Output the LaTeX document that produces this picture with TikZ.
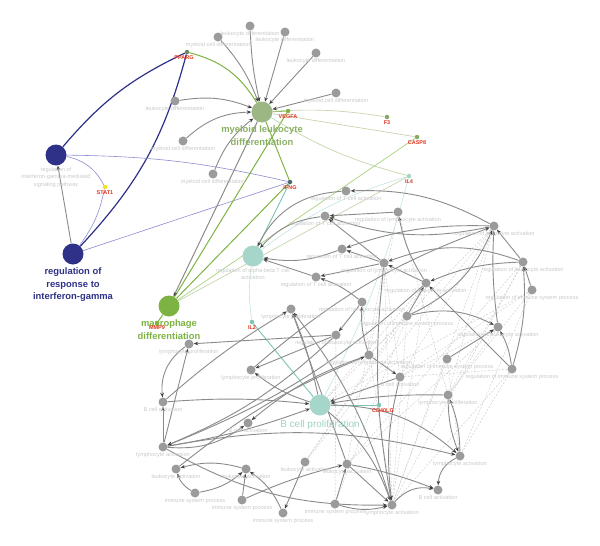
\documentclass[tikz,border=0pt]{standalone}
\usepackage{fontspec}
\setmainfont{Liberation Sans}
\usetikzlibrary{arrows.meta,backgrounds}
\definecolor{termGray}{HTML}{9B9B9B}
\definecolor{edgeGray}{HTML}{8A8A8A}
\definecolor{lblGray}{HTML}{C9C9C9}
\definecolor{geneRed}{HTML}{E2341F}
\definecolor{navyHub}{HTML}{2E3187}
\definecolor{mlHub}{HTML}{9DB784}
\definecolor{mlText}{HTML}{8AB064}
\definecolor{macHub}{HTML}{7CB342}
\definecolor{tealHub}{HTML}{A6D5C9}
\definecolor{tealText}{HTML}{9CD2C4}
\definecolor{lilac}{HTML}{8C8CD2}
\definecolor{oliveLt}{HTML}{C6D5AE}
\definecolor{greenLt}{HTML}{A9D17F}
\definecolor{tealLn}{HTML}{7BC5B3}
\definecolor{tealLt}{HTML}{C3E5DC}
\definecolor{statYel}{HTML}{F2E21B}

\begin{document}
\begin{tikzpicture}[
  x=1pt, y=-1pt,
  tl/.style={font=\fontsize{5.6}{7}\selectfont, text=lblGray, inner sep=0.5pt, align=center},
  gl/.style={font=\fontsize{5.5}{6.5}\selectfont\bfseries, text=geneRed, inner sep=0.5pt},
  hl/.style={font=\fontsize{9.4}{12.4}\selectfont\bfseries, text=#1, align=center, inner sep=2pt},
  term/.style={circle, fill=termGray, inner sep=0pt, minimum size=9pt, label={[tl]below:#1}},
  hub/.style={circle, fill=#1, inner sep=0pt, minimum size=21pt},
  gene/.style={circle, fill=#1, inner sep=0pt, minimum size=4.5pt},
  arr/.style={-{Stealth[length=4.5pt,width=3.6pt,color=black!75]}, draw=edgeGray, line width=0.9pt},
  dsh/.style={draw=black!22, dash pattern=on 2pt off 1.5pt, line width=0.4pt},
  navyln/.style={draw=navyHub, line width=1.2pt},
  lilacln/.style={draw=lilac, line width=0.6pt},
  greenln/.style={draw=macHub, line width=1pt},
  oliveln/.style={draw=oliveLt, line width=0.7pt},
  greenlt/.style={draw=greenLt, line width=0.7pt},
  tealln/.style={draw=tealLn, line width=0.9pt},
  teallt/.style={draw=tealLt, line width=0.6pt}
]
\useasboundingbox (0,0) rectangle (600,546);

% hubs
\node[hub=mlHub, label={[hl=mlText, label distance=1pt]below:{myeloid leukocyte\\differentiation}}] (ml) at (262,112) {};
\node[hub=navyHub, label={[tl, font=\fontsize{5.6}{7.3}\selectfont, label distance=1pt]below:{regulation of\\interferon-gamma-mediated\\signaling pathway}}] (rig) at (56,155) {};
\node[hub=navyHub, label={[hl=navyHub, label distance=1pt]below:{regulation of\\response to\\interferon-gamma}}] (rri) at (73,254) {};
\node[hub=macHub, label={[hl=macHub, label distance=1pt]below:{macrophage\\differentiation}}] (mac) at (169,306) {};
\node[hub=tealHub, label={[tl, label distance=1pt]below:{regulation of alpha-beta T cell\\activation}}] (ab) at (253,256) {};
\node[hub=tealHub, label={[font=\fontsize{10}{12}\selectfont, text=tealText, label distance=1pt]below:B cell proliferation}] (bcp) at (320,405) {};

% genes
\node[gene=macHub!70!navyHub, label={[gl, xshift=-3pt, label distance=1pt]below:PPARG}] (pparg) at (187,52) {};
\node[gene=macHub, label={[gl, label distance=0.5pt]below:VEGFA}] (vegfa) at (288,111) {};
\node[gene=greenLt!80!black, label={[gl, label distance=1pt]below:F3}] (f3) at (387,117) {};
\node[gene=greenLt!80!black, label={[gl, label distance=1pt]below:CASP8}] (casp8) at (417,137) {};
\node[gene=tealHub, label={[gl, label distance=1pt]below:IL4}] (il4) at (409,176) {};
\node[gene=navyHub!60!macHub, label={[gl, label distance=1pt]below:IFNG}] (ifng) at (290,182) {};
\node[gene=statYel, label={[gl, label distance=1pt]below:STAT1}] (stat1) at (105,187) {};
\node[gene=macHub, label={[gl, label distance=0pt]below:MMP9}] (mmp9) at (157,323) {};
\node[gene=tealLn, label={[gl, label distance=1pt]below:IL2}] (il2) at (252,322) {};
\node[gene=tealLn, label={[gl, xshift=4pt, label distance=1pt]below:CD40LG}] (cd40lg) at (379,405) {};

% top terms
\node[term=leukocyte differentiation] (ld1) at (250,26) {};
\node[term=myeloid cell differentiation] (mcd1) at (218,37) {};
\node[term=leukocyte differentiation] (ld2) at (285,32) {};
\node[term=leukocyte differentiation] (ld3) at (316,53) {};
\node[term=myeloid cell differentiation] (mcd2) at (336,93) {};
\node[term=leukocyte differentiation] (ld4) at (175,101) {};
\node[term=myeloid cell differentiation] (mcd3) at (183,141) {};
\node[term=myeloid cell differentiation] (mcd4) at (213,174) {};

% lower terms
\node[term=regulation of T cell activation] (rtc1) at (346,191) {};
\node[term=regulation of T cell activation] (rtc2) at (325,216) {};
\node[term=regulation of T cell activation] (rtc3) at (342,249) {};
\node[term=regulation of T cell activation] (rtc4) at (316,277) {};
\node[term=regulation of lymphocyte activation] (rla1) at (398,212) {};
\node[term=regulation of lymphocyte activation] (rla2) at (384,263) {};
\node[term=regulation of lymphocyte activation] (rla3) at (362,302) {};
\node[term=regulation of lymphocyte activation] (rla4) at (369,355) {};
\node[term=regulation of leukocyte activation] (rle1) at (494,226) {};
\node[term=regulation of leukocyte activation] (rle2) at (426,283) {};
\node[term=regulation of leukocyte activation] (rle3) at (523,262) {};
\node[term=regulation of leukocyte activation] (rle4) at (498,327) {};
\node[term=regulation of leukocyte activation] (rle5) at (336,335) {};
\node[term=regulation of immune system process] (ris1) at (532,290) {};
\node[term=regulation of immune system process] (ris2) at (407,316) {};
\node[term=regulation of immune system process] (ris3) at (447,359) {};
\node[term=regulation of immune system process] (ris4) at (512,369) {};
\node[term=lymphocyte proliferation] (lp1) at (291,309) {};
\node[term=lymphocyte proliferation] (lp2) at (189,344) {};
\node[term=lymphocyte proliferation] (lp3) at (251,370) {};
\node[term=lymphocyte proliferation] (lp4) at (448,395) {};
\node[term=B cell activation] (bca1) at (400,377) {};
\node[term=B cell activation] (bca2) at (163,402) {};
\node[term=B cell activation] (bca3) at (248,423) {};
\node[term=B cell activation] (bca4) at (438,490) {};
\node[term=lymphocyte activation] (la1) at (163,447) {};
\node[term=lymphocyte activation] (la2) at (392,505) {};
\node[term=lymphocyte activation] (la3) at (460,456) {};
\node[term=leukocyte activation] (lea1) at (176,469) {};
\node[term=leukocyte activation] (lea2) at (246,469) {};
\node[term=leukocyte activation] (lea3) at (305,462) {};
\node[term=leukocyte activation] (lea4) at (347,464) {};
\node[term=immune system process] (isp1) at (195,493) {};
\node[term=immune system process] (isp2) at (242,500) {};
\node[term=immune system process] (isp3) at (283,513) {};
\node[term=immune system process] (isp4) at (335,504) {};

\begin{scope}[on background layer]
% dashed links
\foreach \a/\b in {rle1/rla4, rle1/bca1, rle1/lp4, rle1/la2, rle3/lea4, rle3/la2,
  ris1/lp4, ris1/bca1, ris1/bcp, ris4/la2, ris4/la3, ris4/bca1, ris3/la2, ris3/la3,
  rle4/lp4, rle4/lea4, rle4/bca1, ris2/la2, ris2/lea3, ris2/isp4, rla2/la2, rla2/lea4,
  rle2/lea3, rle2/la2, rla1/rla4, rla1/lp4, rle5/isp4, rla3/la2, ris1/la3, rle3/lp4,
  rle2/bcp, ris2/bcp, rla2/bca1, rle1/lea3}
  \draw[dsh] (\a) -- (\b);

% gene links
\draw[navyln] (rig) to[bend left=12] (pparg);
\draw[navyln] (rri) to[bend right=14] (pparg);
\draw[lilacln] (rig) to[bend left=6] (ifng);
\draw[lilacln] (rri) -- (ifng);
\draw[lilacln] (rig) to[bend left=25] (stat1);
\draw[lilacln] (rri) to[bend right=12] (stat1);
\draw[greenln] (pparg) to[bend left=22] (ml);
\draw[greenln] (vegfa) -- (ml);
\draw[greenln] (vegfa) -- (mac);
\draw[greenln] (ml) -- (ifng);
\draw[greenln] (ifng) -- (mac);
\draw[greenln] (mmp9) -- (mac);
\draw[oliveln] (ml) to[bend left=6] (f3);
\draw[oliveln] (ml) -- (casp8);
\draw[oliveln] (ml) to[bend right=8] (il4);
\draw[oliveln] (ml) -- (mac);
\draw[greenlt] (mac) -- (casp8);
\draw[oliveln] (mac) -- (il4);
\draw[tealln] (ab) -- (ifng);
\draw[teallt] (ab) to[bend left=10] (il4);
\draw[teallt] (il2) to[bend left=8] (ab);
\draw[tealln] (il2) -- (bcp);
\draw[tealln] (bcp) -- (cd40lg);
\draw[teallt] (bcp) to[bend right=6] (il4);

% term links
\draw[arr] (rri) -- (rig);
\draw[arr] (ld1) to[bend right=5] (ml);
\draw[arr] (mcd1) to[bend left=10] (ml);
\draw[arr] (ld2) -- (ml);
\draw[arr] (ld3) -- (ml);
\draw[arr] (mcd2) -- (ml);
\draw[arr] (ld4) to[bend left=15] (ml);
\draw[arr] (mcd3) to[bend left=20] (ml);
\draw[arr] (mcd4) to[bend left=15] (ml);
\draw[arr] (ml) -- (mac);
\draw[arr] (rtc1) to[bend right=30] (ab);
\draw[arr] (rtc2) to[bend right=20] (ab);
\draw[arr] (rtc3) to[bend left=15] (ab);
\draw[arr] (rtc4) -- (ab);
\draw[arr] (rla1) -- (rtc2);
\draw[arr] (rle1) to[bend right=15] (rtc1);
\draw[arr] (rle1) to[bend left=15] (rtc2);
\draw[arr] (rle1) to[bend right=10] (rtc3);
\draw[arr] (rla2) -- (rtc2);
\draw[arr] (rla2) -- (rtc3);
\draw[arr] (rla2) -- (rtc4);
\draw[arr] (rle2) to[bend left=10] (rla1);
\draw[arr] (rle3) to[bend right=20] (rla2);
\draw[arr] (rle2) -- (rla2);
\draw[arr] (rle3) -- (rle1);
\draw[arr] (ris1) -- (rle3);
\draw[arr] (rle4) to[bend left=5] (rle1);
\draw[arr] (ris2) to[bend right=20] (rle1);
\draw[arr] (rle3) to[bend right=10] (rle2);
\draw[arr] (ris2) -- (rle2);
\draw[arr] (ris2) to[bend left=20] (rle4);
\draw[arr] (ris3) -- (rle4);
\draw[arr] (ris4) to[bend right=10] (rle4);
\draw[arr] (ris4) -- (rle2);
\draw[arr] (ris4) to[bend right=10] (rle3);
\draw[arr] (rla3) to[bend right=10] (rtc4);
\draw[arr] (rla4) to[bend left=10] (rla3);
\draw[arr] (rla3) -- (rle5);
\draw[arr] (rle5) -- (lp2);
\draw[arr] (rle5) -- (lp3);
\draw[arr] (rle5) to[bend left=10] (la1);
\draw[arr] (lp2) to[bend right=30] (bca2);
\draw[arr] (la1) -- (lp2);
\draw[arr] (la1) -- (bca2);
\draw[arr] (bca2) to[bend left=5] (bcp);
\draw[arr] (la1) to[bend right=5] (bcp);
\draw[arr] (bcp) to[bend left=10] (lp3);
\draw[arr] (la1) to[bend right=20] (bca3);
\draw[arr] (rla4) to[bend right=10] (bca3);
\draw[arr] (isp1) to[bend left=20] (lea1);
\draw[arr] (isp1) to[bend right=15] (lea2);
\draw[arr] (isp2) -- (lea2);
\draw[arr] (isp3) to[bend right=15] (lea2);
\draw[arr] (isp2) to[bend left=5] (lea4);
\draw[arr] (lea2) to[bend right=15] (lea1);
\draw[arr] (isp4) -- (lea4);
\draw[arr] (isp4) to[bend right=15] (la2);
\draw[arr] (lea3) -- (isp3);
\draw[arr] (lea4) -- (la2);
\draw[arr] (lea4) to[bend left=5] (bca4);
\draw[arr] (bca1) to[bend right=10] (la2);
\draw[arr] (la1) to[bend right=15] (la2);
\draw[arr] (bcp) to[bend left=15] (la2);
\draw[arr] (lp4) to[bend right=10] (la3);
\draw[arr] (la3) to[bend right=10] (lp4);
\draw[arr] (la3) to[bend right=30] (bca4);
\draw[arr] (la2) to[bend left=30] (bca4);
\draw[arr] (bcp) to[bend left=20] (la3);
\draw[arr] (la1) to[bend left=12] (la3);
\draw[arr] (lp4) to[bend right=5] (bcp);
\draw[arr] (bca1) -- (bcp);
\draw[arr] (rla4) -- (bca1);
\draw[arr] (bcp) to[bend right=5] (lp1);
\draw[arr] (la2) to[bend right=10] (lp1);
\draw[arr] (lea4) -- (lp1);
\draw[arr] (bca2) to[bend left=5] (lp1);
\draw[arr] (rle2) to[bend left=10] (la1);
\draw[arr] (rla2) to[bend right=8] (la2);
\draw[arr] (lp3) to[bend left=10] (rle1);
\draw[arr] (lea1) to[bend left=8] (rla4);
\end{scope}
\end{tikzpicture}
\end{document}
